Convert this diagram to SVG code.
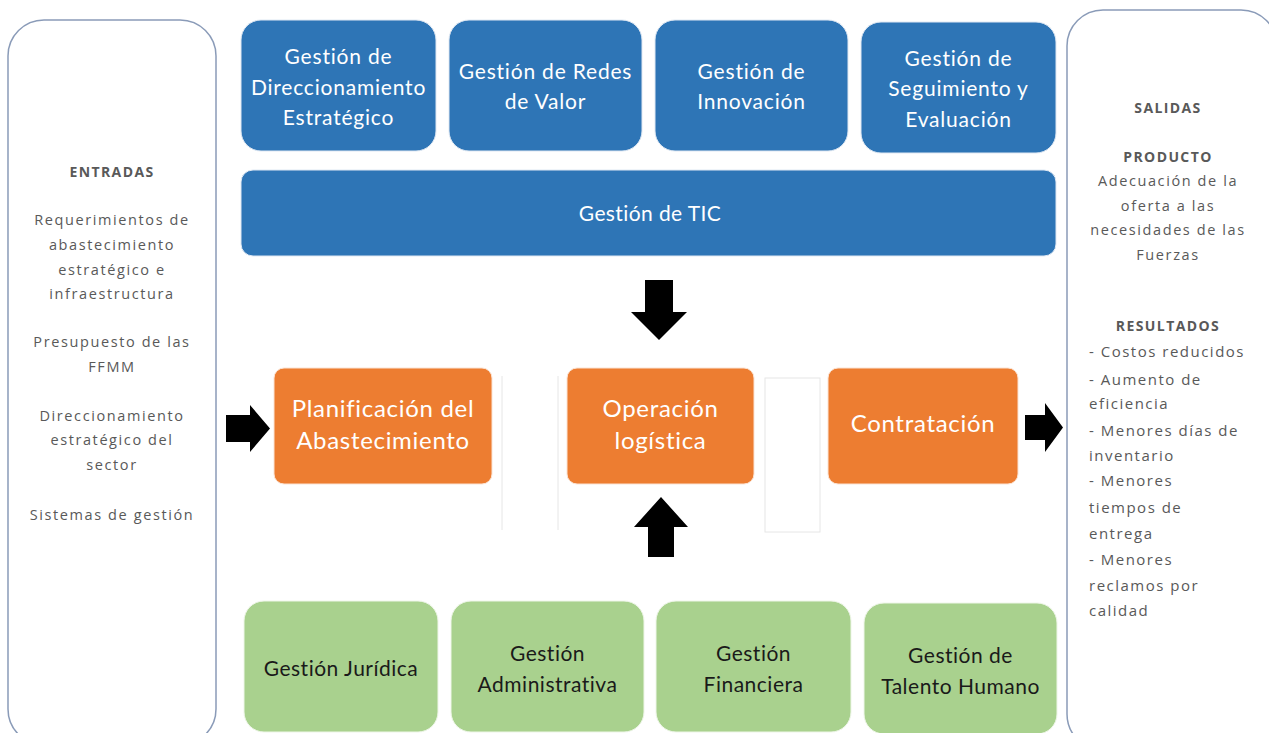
<svg xmlns="http://www.w3.org/2000/svg" width="1269" height="733" viewBox="0 0 1269 733">
<style>
.panel{fill:#fff;stroke:#8a9bb8;stroke-width:1.5}
.blue{fill:#2e75b6;stroke:#dfe8f3;stroke-width:1}
.orange{fill:#ed7d31;stroke:#fbe3d3;stroke-width:1}
.green{fill:#a9d18e;stroke:#eef6e8;stroke-width:1}
.tw{font-family:Lato,"Open Sans",sans-serif;fill:#fff;text-anchor:middle;font-size:21px;letter-spacing:0.8px}
.tt{font-size:21px;letter-spacing:0.4px}
.to{font-size:24px;letter-spacing:0.7px}
.tb{font-family:Lato,"Open Sans",sans-serif;fill:#1a1a1a;text-anchor:middle;font-size:21px;letter-spacing:0.5px}
.side{font-family:"Open Sans","Noto Sans",sans-serif;fill:#595959;font-size:14.5px;text-anchor:middle;letter-spacing:1.6px}
.sideL{font-family:"Open Sans","Noto Sans",sans-serif;fill:#595959;font-size:15px;letter-spacing:1.5px}
.bold{font-weight:bold;font-size:14px;letter-spacing:1.4px}
.arrow{fill:#000}
.faint{fill:none;stroke:#e6e6e6;stroke-width:1}
</style>
<rect width="1269" height="733" fill="#fff"/>
<g id="entradas">
<rect class="panel" x="8" y="20" width="208" height="725" rx="36"/>
<text class="side bold" x="112" y="177">ENTRADAS</text>
<text class="side" x="112" y="225">Requerimientos de</text>
<text class="side" x="112" y="250">abastecimiento</text>
<text class="side" x="112" y="275">estratégico e</text>
<text class="side" x="112" y="299">infraestructura</text>
<text class="side" x="112" y="347">Presupuesto de las</text>
<text class="side" x="112" y="372">FFMM</text>
<text class="side" x="112" y="421">Direccionamiento</text>
<text class="side" x="112" y="445">estratégico del</text>
<text class="side" x="112" y="470">sector</text>
<text class="side" x="112" y="520">Sistemas de gestión</text>
</g>
<g id="salidas">
<rect class="panel" x="1067" y="10" width="210" height="740" rx="36"/>
<text class="side bold" x="1168" y="113">SALIDAS</text>
<text class="side bold" x="1168" y="162">PRODUCTO</text>
<text class="side" x="1168" y="186">Adecuación de la</text>
<text class="side" x="1168" y="211">oferta a las</text>
<text class="side" x="1168" y="235">necesidades de las</text>
<text class="side" x="1168" y="260">Fuerzas</text>
<text class="side bold" x="1168" y="331">RESULTADOS</text>
<text class="sideL" x="1089" y="357">- Costos reducidos</text>
<text class="sideL" x="1089" y="385">- Aumento de</text>
<text class="sideL" x="1089" y="409">eficiencia</text>
<text class="sideL" x="1089" y="436">- Menores días de</text>
<text class="sideL" x="1089" y="461">inventario</text>
<text class="sideL" x="1089" y="486">- Menores</text>
<text class="sideL" x="1089" y="513">tiempos de</text>
<text class="sideL" x="1089" y="539">entrega</text>
<text class="sideL" x="1089" y="565">- Menores</text>
<text class="sideL" x="1089" y="591">reclamos por</text>
<text class="sideL" x="1089" y="616">calidad</text>
</g>
<g id="g-direccionamiento">
<rect class="blue" x="241" y="20" width="195" height="131" rx="20"/>
<text class="tw" x="338.5" y="64">Gestión de</text>
<text class="tw" x="338.5" y="95">Direccionamiento</text>
<text class="tw" x="338.5" y="125">Estratégico</text>
</g>
<g id="g-redes">
<rect class="blue" x="449" y="20" width="193" height="131" rx="20"/>
<text class="tw" x="545.5" y="79">Gestión de Redes</text>
<text class="tw" x="545.5" y="109">de Valor</text>
</g>
<g id="g-innovacion">
<rect class="blue" x="655" y="20" width="193" height="131" rx="20"/>
<text class="tw" x="751.5" y="79">Gestión de</text>
<text class="tw" x="751.5" y="109">Innovación</text>
</g>
<g id="g-seguimiento">
<rect class="blue" x="861" y="22" width="195" height="131" rx="20"/>
<text class="tw" x="958.5" y="66">Gestión de</text>
<text class="tw" x="958.5" y="96">Seguimiento y</text>
<text class="tw" x="958.5" y="127">Evaluación</text>
</g>
<g id="g-tic">
<rect class="blue" x="241" y="170" width="815" height="86" rx="12"/>
<text class="tw tt" x="650" y="221">Gestión de TIC</text>
</g>
<g id="faint-shapes">
<line class="faint" x1="502" y1="376" x2="502" y2="530"/>
<line class="faint" x1="558" y1="376" x2="558" y2="530"/>
<rect class="faint" x="765" y="378" width="55" height="154"/>
</g>
<g id="planificacion">
<rect class="orange" x="274" y="368" width="218" height="116" rx="10"/>
<text class="tw to" x="383" y="417">Planificación del</text>
<text class="tw to" x="383" y="449">Abastecimiento</text>
</g>
<g id="operacion">
<rect class="orange" x="567" y="368" width="187" height="116" rx="10"/>
<text class="tw to" x="660.5" y="417">Operación</text>
<text class="tw to" x="660.5" y="449">logística</text>
</g>
<g id="contratacion">
<rect class="orange" x="828" y="368" width="190" height="116" rx="10"/>
<text class="tw to" x="923" y="432">Contratación</text>
</g>
<g id="g-juridica">
<rect class="green" x="244" y="601" width="194" height="131" rx="20"/>
<text class="tb" x="341" y="676">Gestión Jurídica</text>
</g>
<g id="g-administrativa">
<rect class="green" x="451" y="601" width="193" height="131" rx="20"/>
<text class="tb" x="547.5" y="661">Gestión</text>
<text class="tb" x="547.5" y="692">Administrativa</text>
</g>
<g id="g-financiera">
<rect class="green" x="656" y="601" width="195" height="131" rx="20"/>
<text class="tb" x="753.5" y="661">Gestión</text>
<text class="tb" x="753.5" y="692">Financiera</text>
</g>
<g id="g-talento">
<rect class="green" x="864" y="603" width="193" height="131" rx="20"/>
<text class="tb" x="960.5" y="663">Gestión de</text>
<text class="tb" x="960.5" y="694">Talento Humano</text>
</g>
<g id="connectors">
<polygon class="arrow" points="645,280 673,280 673,312 687,312 659,340 631,312 645,312"/>
<polygon class="arrow" points="661,497 688,527 674,527 674,557 648,557 648,527 634,527"/>
<polygon class="arrow" points="226,415 250,415 250,405 270,428.5 250,452 250,442 226,442"/>
<polygon class="arrow" points="1025,415 1045,415 1045,403 1063,427.5 1045,452 1045,440 1025,440"/>
</g>
</svg>
